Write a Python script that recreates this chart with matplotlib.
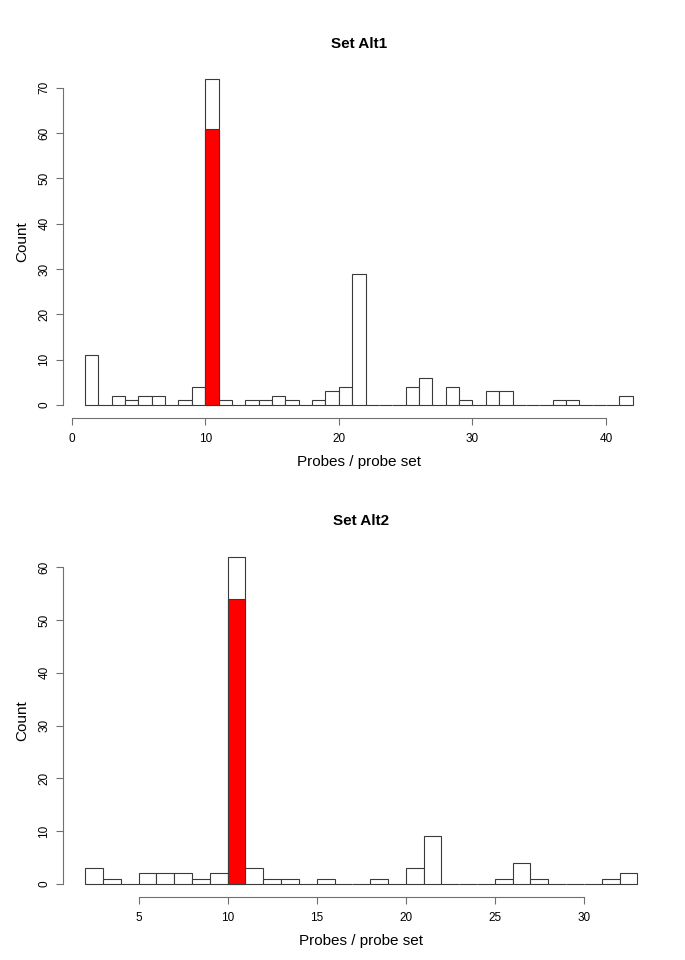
import matplotlib
matplotlib.use("Agg")
import matplotlib.pyplot as plt

plt.rcParams['font.family'] = ['Liberation Sans', 'DejaVu Sans']

# Set Alt1: bins of width 1, left edges 1..41
alt1_left = list(range(1, 42))
alt1_counts = [11, 0, 2, 1, 2, 2, 0, 1, 4, 72, 1, 0, 1, 1, 2, 1, 0, 1, 3, 4, 29,
               0, 0, 0, 4, 6, 0, 4, 1, 0, 3, 3, 0, 0, 0, 1, 1, 0, 0, 0, 2]
alt1_red_left = [10]
alt1_red_counts = [61]
alt1_xticks = [0, 10, 20, 30, 40]
alt1_yticks = [0, 10, 20, 30, 40, 50, 60, 70]

# Set Alt2: bins of width 1, left edges 2..32
alt2_left = list(range(2, 33))
alt2_counts = [3, 1, 0, 2, 2, 2, 1, 2, 62, 3, 1, 1, 0, 1, 0, 0, 1, 0, 3, 9,
               0, 0, 0, 1, 4, 1, 0, 0, 0, 1, 2]
alt2_red_left = [10]
alt2_red_counts = [54]
alt2_xticks = [5, 10, 15, 20, 25, 30]
alt2_yticks = [0, 10, 20, 30, 40, 50, 60]

BAR_EDGE = '#3a3a3a'
AXIS_COL = '#707070'


def draw_hist(ax, left, counts, red_left, red_counts, xticks, yticks, title):
    ax.bar(left, counts, width=1, align='edge', color='white',
           edgecolor=BAR_EDGE, linewidth=0.8)
    ax.bar(red_left, red_counts, width=1, align='edge', color='#ff0000',
           edgecolor=BAR_EDGE, linewidth=0.8)

    lo, hi = left[0], left[-1] + 1
    pad = 0.04 * (hi - lo)
    ax.set_xlim(lo - pad, hi + pad)
    ymax = max(counts)
    ax.set_ylim(-0.04 * ymax, ymax * 1.04)

    for s in ['top', 'right']:
        ax.spines[s].set_visible(False)
    ax.spines['bottom'].set_bounds(xticks[0], xticks[-1])
    ax.spines['left'].set_bounds(yticks[0], yticks[-1])
    for s in ['bottom', 'left']:
        ax.spines[s].set_color(AXIS_COL)
        ax.spines[s].set_linewidth(0.8)

    ax.set_xticks(xticks)
    ax.set_yticks(yticks)
    ax.tick_params(colors=AXIS_COL, labelcolor='black', labelsize=8.5,
                   length=5, width=0.8)
    ax.tick_params(axis='x', pad=6)
    ax.tick_params(axis='y', pad=4)
    for lab in ax.get_yticklabels():
        lab.set_rotation(90)
        lab.set_va('center')

    ax.set_title(title, fontsize=11, fontweight='bold', pad=13)
    ax.set_xlabel('Probes / probe set', fontsize=11, labelpad=7)
    ax.set_ylabel('Count', fontsize=11, labelpad=7)


fig = plt.figure(figsize=(6.85, 9.6), dpi=100)
ax1 = fig.add_axes([0.0920, 0.5646, 0.8638, 0.3669])
ax2 = fig.add_axes([0.0920, 0.0656, 0.8707, 0.3682])

draw_hist(ax1, alt1_left, alt1_counts, alt1_red_left, alt1_red_counts,
          alt1_xticks, alt1_yticks, 'Set Alt1')
draw_hist(ax2, alt2_left, alt2_counts, alt2_red_left, alt2_red_counts,
          alt2_xticks, alt2_yticks, 'Set Alt2')

fig.savefig('out.png', dpi=100)
plt.close(fig)
